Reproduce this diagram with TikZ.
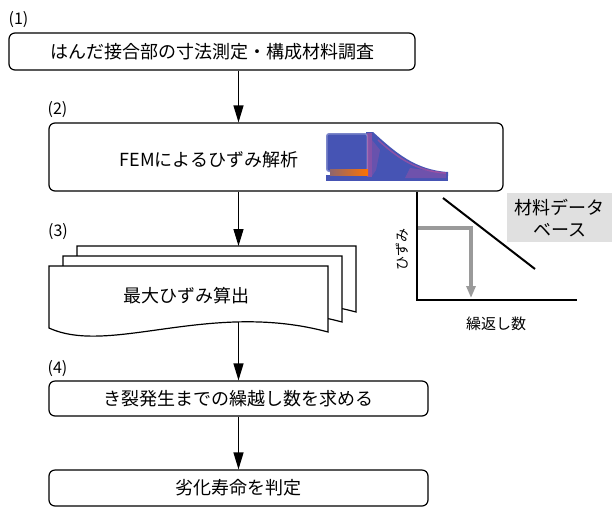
\documentclass[tikz,border=0pt]{standalone}
\usepackage{fontspec}
\setmainfont{Noto Sans CJK JP}
\usetikzlibrary{positioning,arrows.meta}
\definecolor{femblue}{HTML}{4654B4}
\definecolor{fempink}{HTML}{D0509A}
\definecolor{dbgray}{HTML}{E0E0E0}
\definecolor{curvegray}{HTML}{9A9A9A}

\begin{document}
\begin{tikzpicture}
		[x=1pt,y=-1pt,
		procbox/.style={draw,rounded corners=6pt,line width=1.2pt,inner sep=0pt,font=\fontsize{18}{22}\selectfont},
		sheet/.style={draw,fill=white,line width=1.2pt},
		num/.style={inner sep=0pt,font=\fontsize{16}{18}\selectfont},
		flow/.style={line width=1.2pt,-{Triangle[length=17pt,width=10pt]}},
		big/.style={inner sep=0pt,font=\fontsize{18}{22}\selectfont}]
		\useasboundingbox (0,0) rectangle (612,507);

		\node [procbox,minimum width=406pt,minimum height=37pt] (b1) at (212,51.5) {はんだ接合部の寸法測定・構成材料調査};
		\node [procbox,minimum width=454pt,minimum height=68pt] (b2) at (276,157) {};
		\node [big] (fem) at (209,160) {FEMによるひずみ解析};
		\node [procbox,minimum width=379pt,minimum height=35pt] (b4) at (238.5,398.5) {き裂発生までの繰越し数を求める};
		\node [procbox,minimum width=379pt,minimum height=36pt] (b5) at (238.5,488) {劣化寿命を判定};

		% stacked result sheets
		\foreach \dx/\dy in {28/-20,14/-10,0/0}
			\draw [sheet,shift={(\dx,\dy)}] (49,266) -- (328,266) -- (328,332)
				.. controls (210,300) and (110,356) .. (49,328) -- cycle;
		\node [big] (b3) at (186,296) {最大ひずみ算出};
		\coordinate (s3corner) at (49,246);
		\coordinate (s3top) at (238.5,246);
		\coordinate (s3bot) at (238.5,322);

		\node [num] (n1) [above right=5pt and 0pt of b1.north west] {(1)};
		\node [num] (n2) [above right=5pt and -1pt of b2.north west] {(2)};
		\node [num] (n3) [above right=6pt and -1pt of s3corner] {(3)};
		\node [num] (n4) [above right=4pt and -1pt of b4.north west] {(4)};

		\draw [flow] (b1.south -| b4) -- (b2.north -| b4);
		\draw [flow] (b2.south -| b4) -- (s3top);
		\draw [flow] (s3bot) -- (b4.north);
		\draw [flow] (b4) -- (b5);

		% strain map of the solder joint
		\fill [femblue] (326,175) rectangle (448,181);
		\fill [femblue] (366,132) -- (373,132) .. controls (395,152) and (415,170) .. (448,172)
			-- (448,176) -- (366,176) -- cycle;
		\fill [femblue!70!white,rounded corners=3pt] (326,133) rectangle (368,172);
		\fill [femblue,rounded corners=2pt] (327.5,134.5) rectangle (366.5,170.5);
		\fill [fempink,opacity=.45] (367,133) rectangle (372,177);
		\fill [fempink,opacity=.25] (372,140) -- (380,150) -- (376,170) -- (372,176) -- cycle;
		\draw [fempink,opacity=.5,line width=1.5pt] (378,140) .. controls (398,158) and (416,171) .. (446,173);
		\fill [fempink,opacity=.3] (410,168) -- (446,173) -- (446,178) -- (405,178) -- cycle;
		\shade [left color=femblue!60!orange,middle color=yellow!90!orange,right color=orange!90!red] (330,169.5) rectangle (368,175.5);

		% strain versus cycles
		\coordinate (o) at (417,300);
		\draw [curvegray,line width=3.5pt,-{Triangle[length=12pt,width=9pt]}] (417,228) -| (471,298);
		\draw [line width=1.2pt] (b2.south -| o) -- (o) -- (577,300);
		\draw [line width=2pt] (443,198) -- (535,269);
		\node [big,fill=dbgray,minimum width=105pt,minimum height=49pt,anchor=north west,align=center] (db) at (507,193) {材料データ\\ベース};
		\node [inner sep=0pt,rotate=90,font=\fontsize{14}{16}\selectfont] (ylab) at (402,249) {ひずみ};
		\node [inner sep=0pt,font=\fontsize{15}{17}\selectfont] (xlab) at (496,324) {繰返し数};

	\end{tikzpicture}
\end{document}
